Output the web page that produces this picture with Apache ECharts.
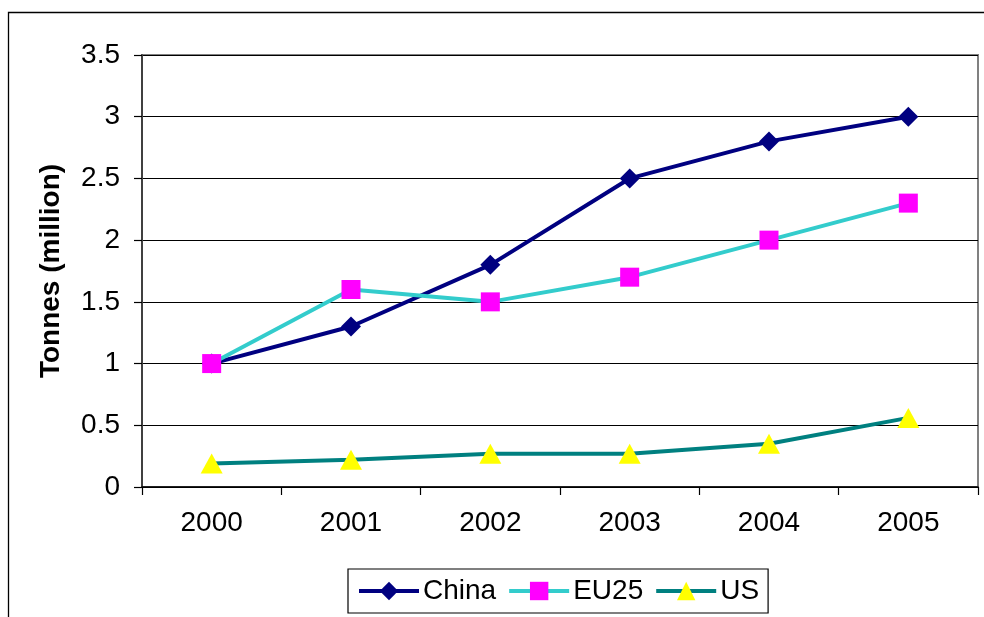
<!DOCTYPE html>
<html>
<head>
<meta charset="utf-8">
<script src="https://cdn.jsdelivr.net/npm/echarts@6/dist/echarts.min.js"></script>
<style>
  html, body { margin: 0; padding: 0; background: #fff; }
  #chart { width: 984px; height: 617px; }
</style>
</head>
<body>
<div id="chart"></div>
<script>
// Annual production, million tonnes
var years = ['2000', '2001', '2002', '2003', '2004', '2005'];
var china = [1.0, 1.3, 1.8, 2.5, 2.8, 3.0];
var eu25 = [1.0, 1.6, 1.5, 1.7, 2.0, 2.3];
var us = [0.19, 0.22, 0.27, 0.27, 0.35, 0.56];

var FONT = '"Liberation Sans", Arial, sans-serif';
var FS = 28;

var chart = echarts.init(document.getElementById('chart'), null, { renderer: 'canvas' });

function lineSeries(name, data, lineColor, symbol, symbolSize, markerColor) {
  return {
    name: name,
    type: 'line',
    data: data,
    symbol: symbol,
    symbolSize: symbolSize,
    showAllSymbol: true,
    lineStyle: { color: lineColor, width: 4 },
    itemStyle: { color: markerColor, borderWidth: 0 },
    emphasis: { disabled: true },
    animation: false
  };
}

chart.setOption({
  backgroundColor: '#ffffff',
  animation: false,
  textStyle: { fontFamily: FONT },
  graphic: [{
    type: 'rect',
    shape: { x: 8.5, y: 12.5, width: 1100, height: 800 },
    style: { fill: null, stroke: '#000', lineWidth: 1.3 },
    silent: true,
    z: -10
  }],
  grid: {
    left: 142, right: 6, top: 55, bottom: 130,
    show: true,
    borderColor: '#808080',
    borderWidth: 2,
    backgroundColor: '#ffffff'
  },
  legend: {
    left: 348,
    top: 569,
    orient: 'horizontal',
    itemWidth: 60,
    itemHeight: 23,
    itemGap: 11,
    padding: [8, 9, 8, 9],
    borderColor: '#000',
    borderWidth: 1.2,
    lineStyle: { width: 4 },
    textStyle: { fontSize: FS, color: '#000', fontFamily: FONT, padding: [0, 0, 0, -1] },
    data: ['China', 'EU25', 'US']
  },
  xAxis: {
    type: 'category',
    data: years,
    boundaryGap: true,
    axisLine: { lineStyle: { color: '#000', width: 1.5 } },
    axisTick: { show: true, length: 8, inside: false, lineStyle: { color: '#000', width: 1.2 } },
    axisLabel: { fontSize: FS, color: '#000', margin: 22, fontFamily: FONT },
    splitLine: { show: false }
  },
  yAxis: {
    type: 'value',
    min: 0,
    max: 3.5,
    interval: 0.5,
    name: 'Tonnes (million)',
    nameLocation: 'middle',
    nameGap: 77,
    nameTextStyle: { fontSize: FS, fontWeight: 'bold', color: '#000', fontFamily: FONT },
    axisLine: { show: true, lineStyle: { color: '#404040', width: 2 } },
    axisTick: { show: true, length: 8, lineStyle: { color: '#000', width: 1.2 } },
    axisLabel: { fontSize: FS, color: '#000', margin: 22, fontFamily: FONT },
    splitLine: { show: true, lineStyle: { color: '#000', width: 1 } }
  },
  series: [
    lineSeries('China', china, '#000080', 'diamond', [20, 20], '#000080'),
    lineSeries('EU25', eu25, '#33CCCC', 'rect', [19, 19], '#FF00FF'),
    lineSeries('US', us, '#008080', 'triangle', [22, 20], '#FFFF00')
  ]
});
</script>
</body>
</html>
